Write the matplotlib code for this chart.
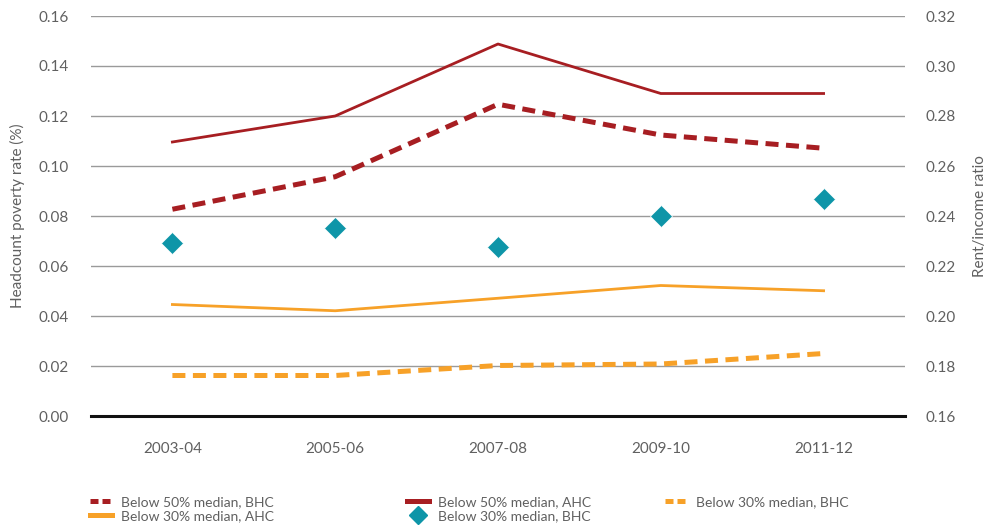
import matplotlib
matplotlib.use("Agg")
import matplotlib.pyplot as plt
from matplotlib.lines import Line2D

plt.rcParams['font.family'] = ['Lato', 'DejaVu Sans']

categories = ["2003-04", "2005-06", "2007-08", "2009-10", "2011-12"]
below50_bhc = [0.0827, 0.0957, 0.1247, 0.1124, 0.1071]
below50_ahc = [0.1096, 0.1200, 0.1488, 0.1290, 0.1290]
below30_bhc = [0.0162, 0.0162, 0.0202, 0.0208, 0.0250]
below30_ahc = [0.0446, 0.0421, 0.0471, 0.0522, 0.0501]
rent_income = [0.2293, 0.2351, 0.2275, 0.2400, 0.2469]

left_ticks = [0.00, 0.02, 0.04, 0.06, 0.08, 0.10, 0.12, 0.14, 0.16]
right_ticks = [0.16, 0.18, 0.20, 0.22, 0.24, 0.26, 0.28, 0.30, 0.32]

RED = '#A71E22'
ORANGE = '#F7A128'
TEAL = '#0E95A8'
TXT = '#606060'

fig = plt.figure(figsize=(9.92, 5.28), dpi=100)
ax = fig.add_axes([91/992, 1-416/528, (905-91)/992, 400/528])
ax2 = ax.twinx()

x = list(range(len(categories)))

ax.set_xlim(-0.5, len(categories) - 0.5)
ax.set_ylim(0, 0.16)
ax2.set_ylim(0.16, 0.32)

for t in left_ticks[1:]:
    ax.axhline(t, color='#9a9a9a', lw=1.0, zorder=1)
ax.axhline(0, color='#111111', lw=2.2, zorder=3, clip_on=False)

ax.plot(x, below50_bhc, color=RED, lw=3.6, dashes=(2.6, 1.5), zorder=4, dash_capstyle='butt')
ax.plot(x, below50_ahc, color=RED, lw=2.0, zorder=4)
ax.plot(x, below30_bhc, color=ORANGE, lw=3.6, dashes=(2.6, 1.5), zorder=4, dash_capstyle='butt')
ax.plot(x, below30_ahc, color=ORANGE, lw=2.0, zorder=4)
ax2.plot(x, rent_income, linestyle='none', marker='D', ms=11, color=TEAL, mec='white', mew=0.5, zorder=5)

for a in (ax, ax2):
    for s in a.spines.values():
        s.set_visible(False)

ax.set_xticks(x)
ax.set_xticklabels(categories)
ax.tick_params(axis='x', length=0, pad=19, labelsize=11, labelcolor=TXT)
ax.set_yticks(left_ticks)
ax.set_yticklabels([f"{v:.2f}" for v in left_ticks])
ax.tick_params(axis='y', length=0, pad=16, labelsize=11, labelcolor=TXT)
ax2.set_yticks(right_ticks)
ax2.set_yticklabels([f"{v:.2f}" for v in right_ticks])
ax2.tick_params(axis='y', length=0, pad=15, labelsize=11, labelcolor=TXT)

ax.set_ylabel("Headcount poverty rate (%)", fontsize=11, color=TXT, labelpad=10)
ax2.set_ylabel("Rent/income ratio", fontsize=11, color=TXT, labelpad=12)

h_50bhc = Line2D([], [], color=RED, lw=3.6, dashes=(1.6, 0.8))
h_50ahc = Line2D([], [], color=RED, lw=3.6)
h_30bhc = Line2D([], [], color=ORANGE, lw=3.6, dashes=(1.6, 0.8))
h_30ahc = Line2D([], [], color=ORANGE, lw=3.6)
h_rent = Line2D([], [], linestyle='none', marker='D', ms=9, color=TEAL)

legend_kw = dict(frameon=False, fontsize=10, labelcolor=TXT, handlelength=1.6,
                 handletextpad=0.6, labelspacing=0.15, loc='upper left',
                 borderaxespad=0, borderpad=0)
fig.legend([h_50bhc, h_30ahc], ["Below 50% median, BHC", "Below 30% median, AHC"],
           bbox_to_anchor=(90/992, 1-496/528), **legend_kw)
fig.legend([h_50ahc, h_rent], ["Below 50% median, AHC", "Below 30% median, BHC"],
           bbox_to_anchor=(407/992, 1-496/528), **legend_kw)
fig.legend([h_30bhc], ["Below 30% median, BHC"],
           bbox_to_anchor=(665/992, 1-496/528), **legend_kw)

fig.savefig("out.png", dpi=100)
